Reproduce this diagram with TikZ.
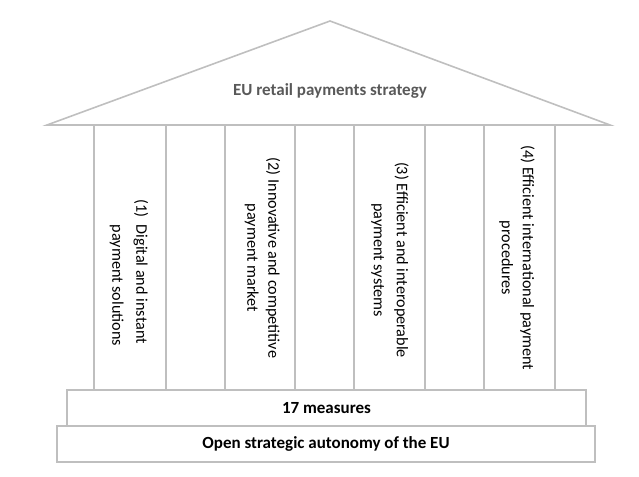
\documentclass[tikz,border=0pt]{standalone}
\usepackage{fontspec}
\setmainfont{Carlito}
\definecolor{linegrey}{HTML}{BFBFBF}
\definecolor{rooftext}{HTML}{595959}
\tikzset{
  frame/.style={draw=linegrey, line width=1.6pt},
  box/.style={frame, fill=white, inner sep=0pt, font=\fontsize{17}{20}\selectfont\bfseries, text=black},
  pillartext/.style={rotate=-90, inner sep=0pt, font=\fontsize{16.2}{21}\selectfont, text=black},
  rooflabel/.style={inner sep=0pt, font=\fontsize{17}{20}\selectfont\bfseries, text=rooftext}
}
\begin{document}
\begin{tikzpicture}[x=1pt,y=-1pt]
\useasboundingbox (0,0) rectangle (639,476);
% roof
\draw[frame, line join=miter] (47,125) coordinate (rl) -- (330,21) coordinate (apex) -- (610,125) coordinate (rr) -- cycle;
\node[rooflabel] (roof) at (330,91) {EU retail payments strategy};
% pillar lines
\foreach \x [count=\i] in {94,166,225,295,354,425,484,555} {
  \coordinate (pt\i) at (\x,125);
  \coordinate (pb\i) at (\x,390);
  \draw[frame] (pt\i) -- (pb\i);
}
% base boxes
\node[box, minimum width=538pt, minimum height=36pt] (autonomy) at (326,444) {Open strategic autonomy of the EU};
\node[box, minimum width=519pt, minimum height=36pt] (measures) at (326.5,408) {17 measures};
% pillar texts
\node[pillartext, align=left] (p1) at (129,273) {\makebox[25pt][l]{(1)}Digital and instant\\[3pt]\hspace*{25pt}payment solutions};
\node[pillartext, align=center] (p2) at (262.5,258) {(2) Innovative and competitive\\payment market};
\node[pillartext, align=center] (p3) at (390,260) {(3) Efficient and interoperable\\[2pt]payment systems};
\node[pillartext, align=center] (p4) at (517,258) {(4) Efficient international payment\\procedures};
\end{tikzpicture}
\end{document}
